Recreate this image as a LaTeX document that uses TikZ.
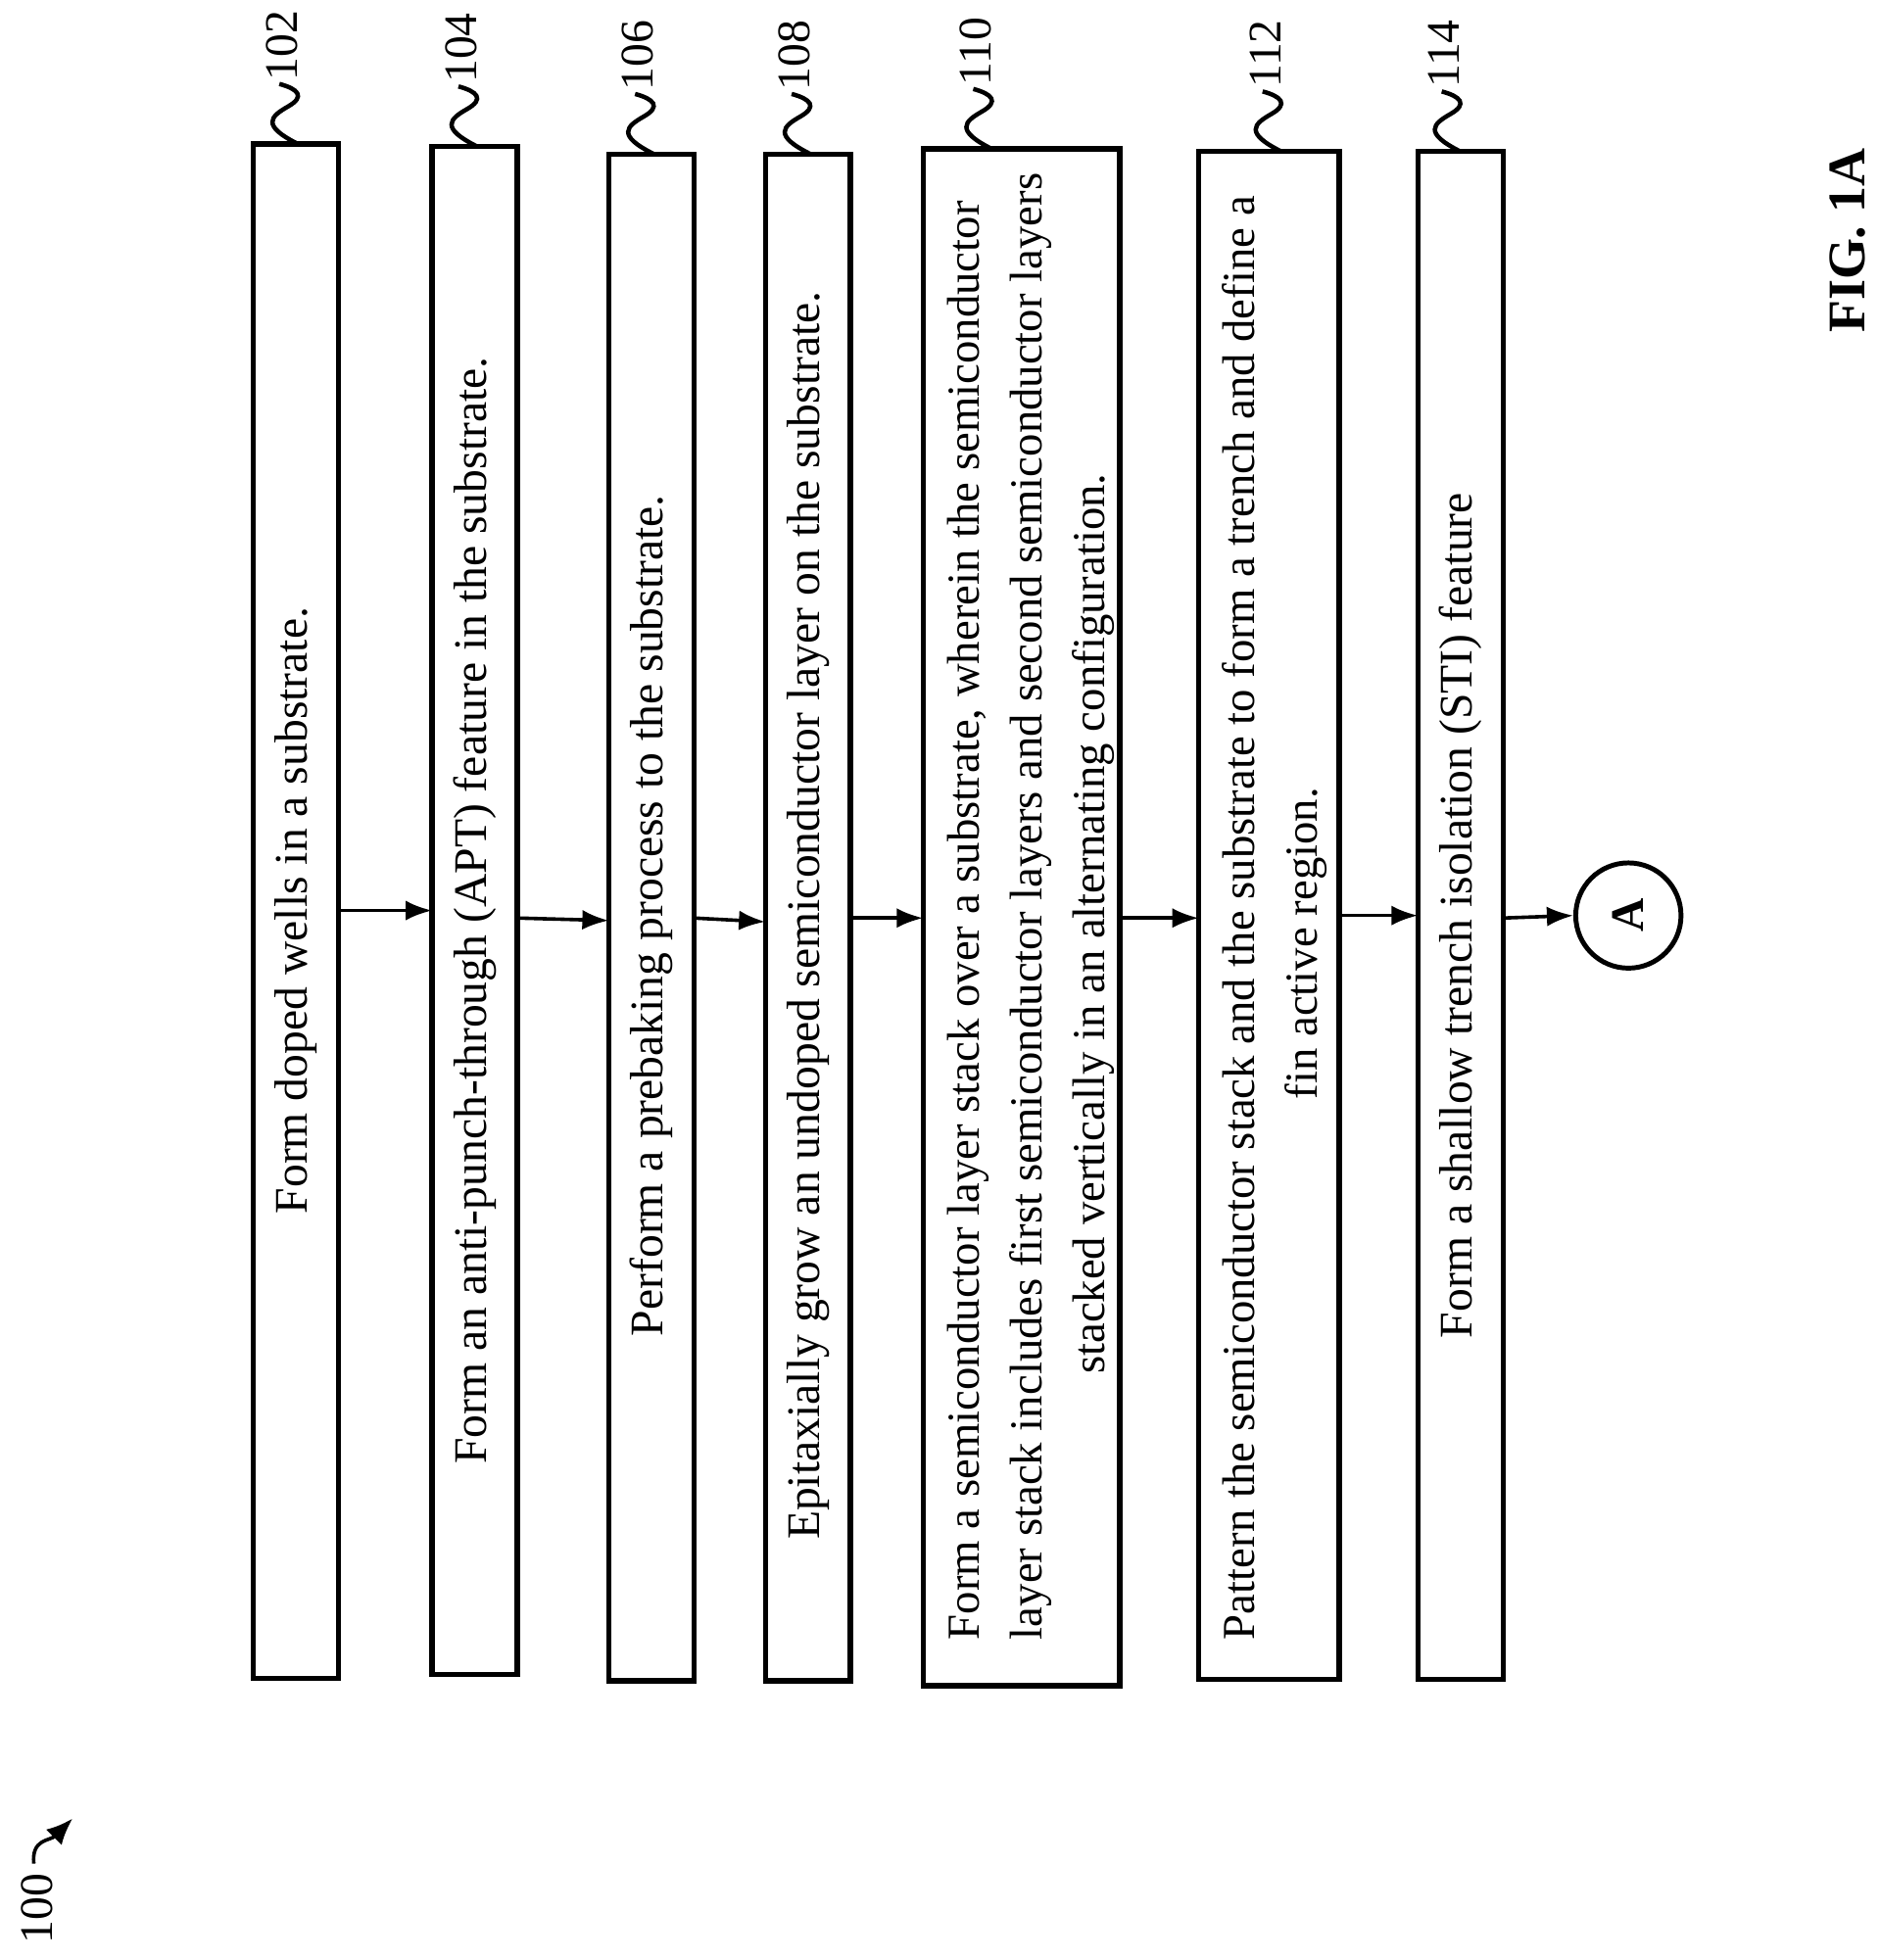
\documentclass[tikz,border=0pt]{standalone}
\usepackage{fontspec}
\setmainfont{Liberation Serif}
\usetikzlibrary{arrows.meta}
\begin{document}
\begin{tikzpicture}[x=0.01cm,y=-0.01cm,
  box/.style={draw,line width=1.2pt},
  txt/.style={rotate=90,font=\fontsize{10.6}{14.2}\selectfont,inner sep=0pt},
  mtxt/.style={txt,align=left,font=\fontsize{10.4}{14.2}\selectfont},
  arr/.style={-{Latex[length=6pt,width=4.5pt]},line width=0.8pt},
  sq/.style={line width=1pt},
  lab/.style={rotate=90,font=\fontsize{10.6}{14}\selectfont,inner sep=0pt,anchor=west}]
\useasboundingbox (0,0) rectangle (1500,1565);
\draw[box] (202,115) rectangle (270,1340);
\draw[box] (345,117) rectangle (413,1337);
\draw[box] (486,123) rectangle (554,1342);
\draw[box] (611,123) rectangle (679,1342);
\draw[box] (737,119) rectangle (894,1346);
\draw[box] (957,121) rectangle (1069,1341);
\draw[box] (1132,121) rectangle (1200,1341);
\node[txt] (t102) at (236,727) {Form doped wells in a substrate.};
\node[txt] (t104) at (379,727) {Form an anti-punch-through (APT) feature in the substrate.};
\node[txt] (t106) at (520,731) {Perform a prebaking process to the substrate.};
\node[txt] (t108) at (645,731) {Epitaxially grow an undoped semiconductor layer on the substrate.};
\node[mtxt,anchor=north west] (t110) at (756,1310) {Form a semiconductor layer stack over a substrate, wherein the semiconductor\\ layer stack includes first semiconductor layers and second semiconductor layers\\ \hspace*{5.8em}stacked vertically in an alternating configuration.};
\node[mtxt,anchor=north west] (t112) at (975,1310) {Pattern the semiconductor stack and the substrate to form a trench and define a\\ \hspace*{11.8em}fin active region.};
\node[txt] (t114) at (1166,731) {Form a shallow trench isolation (STI) feature};
\node[draw,circle,line width=1.1pt,minimum size=0.84cm,inner sep=0pt] (A) at (1300,731) {};
\node[rotate=90,font=\bfseries\fontsize{10.6}{14}\selectfont] at (A) {A};
\draw[arr] (270,727) -- (345,727);
\draw[arr] (413,733) -- (486,735);
\draw[arr] (554,733) -- (611,736);
\draw[arr] (679,733) -- (737,733);
\draw[arr] (894,733) -- (957,733);
\draw[arr] (1069,731) -- (1132,731);
\draw[arr] (1200,733) -- (A.west);
\foreach \x/\y/\n in {238/115/102,381/117/104,522/123/106,647/123/108,792/119/110,1023/121/112,1166/121/114}{
  \draw[sq] (\x,\y) .. controls (\x-30,\y-15) and (\x-22,\y-22) .. (\x-8,\y-30) .. controls (\x+6,\y-38) and (\x,\y-44) .. (\x-15,\y-48);
  \node[lab] at (\x-13,\y-50) {\n};
}
\node[rotate=90,font=\bfseries\fontsize{12}{14}\selectfont] (fig) at (1475,192) {FIG. 1A};
\node[rotate=90,font=\fontsize{10.6}{14}\selectfont,inner sep=0pt] (n100) at (30,1524) {100};
\draw[-{Latex[length=6pt,width=5pt]},line width=0.8pt] (27,1488) .. controls (25,1468) and (40,1470) .. (58,1452);
\end{tikzpicture}
\end{document}
